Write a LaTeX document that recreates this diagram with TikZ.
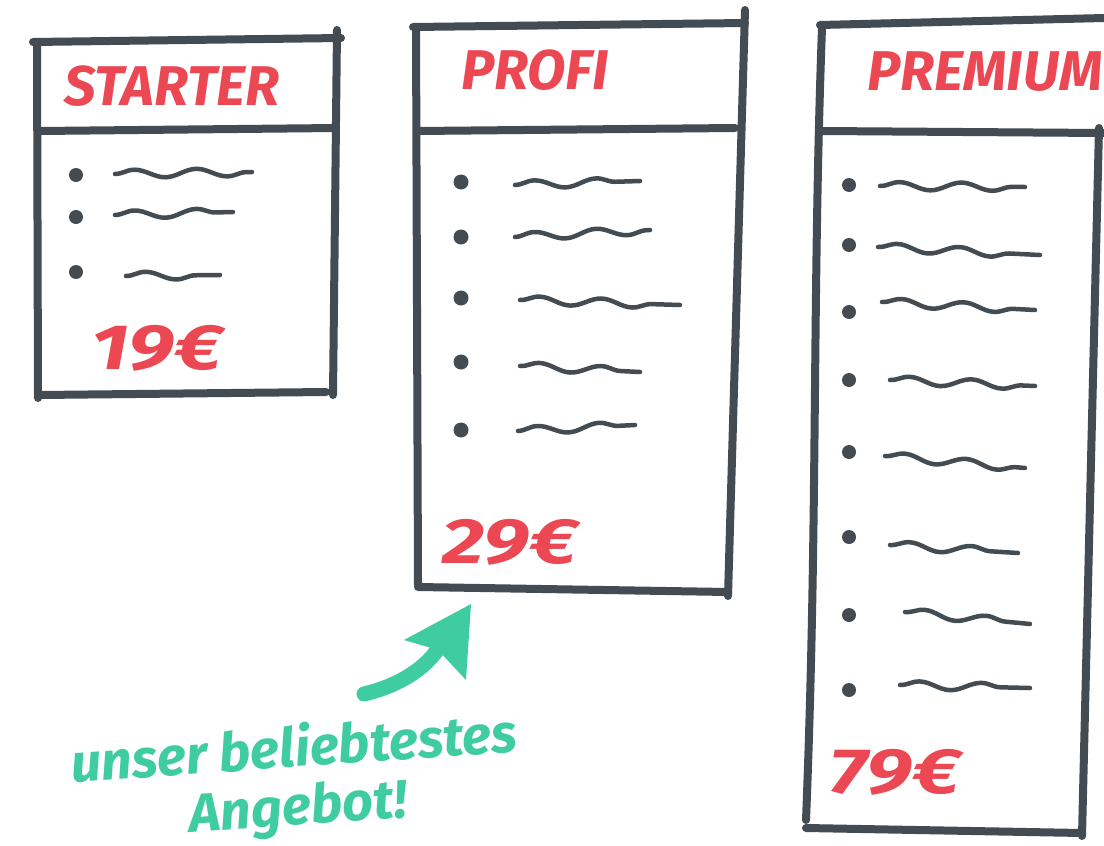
\documentclass[tikz,border=0pt]{standalone}
\usepackage{fontspec}
\setmainfont{Fira Sans}
\usetikzlibrary{decorations.pathmorphing}
\definecolor{pen}{RGB}{66,76,82}
\definecolor{redpen}{RGB}{236,72,84}
\definecolor{greenpen}{RGB}{62,204,160}
\begin{document}
\begin{tikzpicture}[x=1pt,y=-1pt,
  frame/.style={draw=pen,line width=8pt,line cap=round},
  squig/.style={draw=pen,line width=4.5pt,line cap=round,decorate,
    decoration={snake,segment length=62pt,amplitude=4pt}},
  ttl/.style={text=redpen,font=\fontsize{56}{60}\selectfont\bfseries\itshape,inner sep=0pt},
  price/.style={text=redpen,font=\fontsize{64}{70}\selectfont\bfseries\itshape,inner sep=0pt,xscale=1.3},
  note/.style={text=greenpen,font=\fontsize{54}{58}\selectfont\bfseries\itshape,inner sep=0pt,align=center}]
\useasboundingbox[fill=white] (0,0) rectangle (1104,846);

% ---- Starter card ----
\draw[frame] (33,42) -- (341,38);
\draw[frame] (37,42) -- (38,398);
\draw[frame] (337,30) -- (333,395);
\draw[frame] (40,131) -- (336,128);
\draw[frame] (40,395) -- (326,392);
\node[ttl] (t1) at (172,86) {STARTER};
\foreach \y in {175,217,272} \fill[pen] (76,\y) circle (7pt);
\draw[squig] (115,174) -- (252,172);
\draw[squig] (115,215) -- (233,212);
\draw[squig] (126,276) -- (220,275);
\node[price] (p1) at (157,348) {19€};

% ---- Profi card ----
\draw[frame] (413,27) -- (745,23);
\draw[frame] (416,27) -- (418,585);
\draw[frame] (745,10) -- (728,596);
\draw[frame] (418,131) -- (735,128);
\draw[frame] (418,587) -- (728,592);
\node[ttl] (t2) at (535,70) {PROFI};
\foreach \y in {182,237,298,362,430} \fill[pen] (461,\y) circle (7.5pt);
\draw[squig] (515,185) -- (640,181);
\draw[squig] (515,237) -- (650,230);
\draw[squig] (520,300) -- (680,305);
\draw[squig] (520,366) -- (640,372);
\draw[squig] (518,431) -- (635,425);
\node[price] (p2) at (510,542) {29€};

% ---- Premium card ----
\draw[frame] (820,25) -- (1104,18);
\draw[frame] (822,28) .. controls (812,300) and (818,520) .. (806,820);
\draw[frame] (1099,128) -- (1082,836);
\draw[frame] (822,131) -- (1104,133);
\draw[frame] (806,828) -- (1082,833);
\node[ttl] (t3) at (985,72) {PREMIUM};
\foreach \y in {185,245,312,380,452,537,615,690} \fill[pen] (849,\y) circle (7pt);
\draw[squig] (880,186) -- (1025,187);
\draw[squig] (878,247) -- (1040,255);
\draw[squig] (882,302) -- (1035,310);
\draw[squig] (890,380) -- (1035,386);
\draw[squig] (885,456) -- (1025,468);
\draw[squig] (890,545) -- (1018,553);
\draw[squig] (905,612) -- (1030,624);
\draw[squig] (900,685) -- (1030,688);
\node[price] (p3) at (895,772) {79€};

% ---- note with arrow to the favourite plan ----
\node[note,rotate=4] (n1) at (296,780) {unser beliebtestes\\Angebot!};
\coordinate (tail) at (364,694);
\coordinate (tip) at (471,604);
\draw[greenpen,line width=15pt,line cap=round]
  (tail) .. controls (405,684) and (432,664) .. (446,636);
\fill[greenpen] (tip) -- (404,640) -- (438,650) -- (466,680) -- cycle;
\end{tikzpicture}
\end{document}
